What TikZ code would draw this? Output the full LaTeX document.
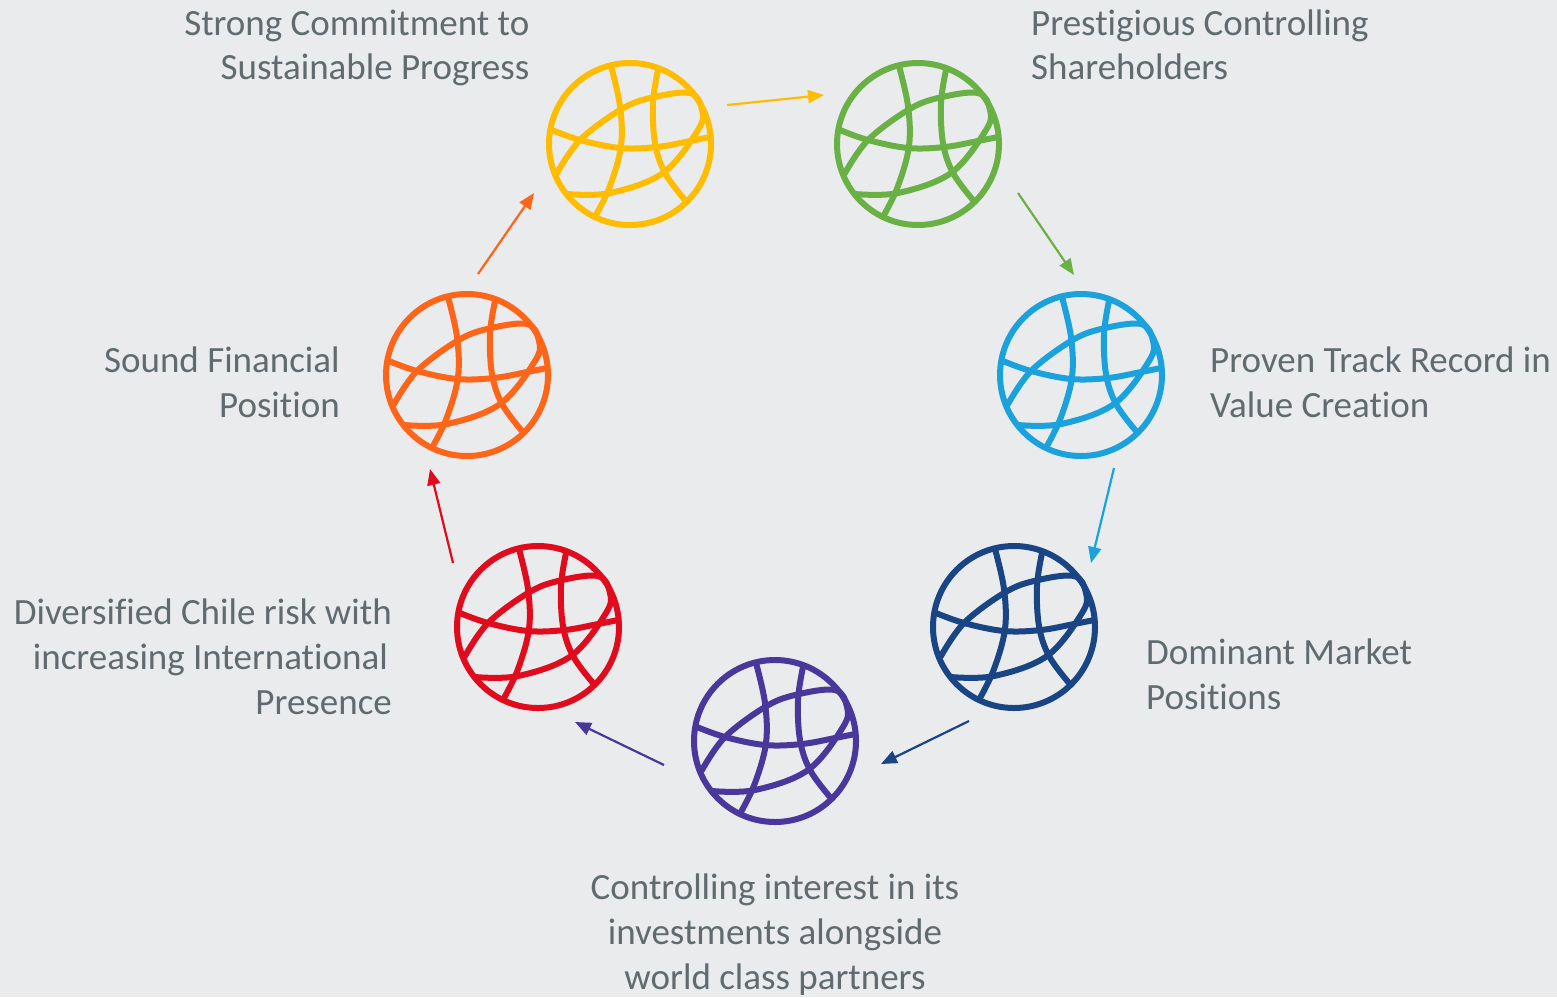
\documentclass[tikz,border=0pt]{standalone}
\usepackage{fontspec}
\setmainfont{Carlito}[Ligatures=NoCommon]
\usetikzlibrary{arrows.meta}
\definecolor{bgc}{HTML}{E9EBED}
\definecolor{txtc}{HTML}{5F6B6E}
\definecolor{cyellow}{HTML}{FFBC00}
\definecolor{cgreen}{HTML}{6AB145}
\definecolor{cblue}{HTML}{1BA2DC}
\definecolor{cnavy}{HTML}{1A4584}
\definecolor{cpurple}{HTML}{4A379C}
\definecolor{cred}{HTML}{E00B1C}
\definecolor{corange}{HTML}{FF6518}
\tikzset{
  x=1pt,y=-1pt,
  globering/.style={circle,draw=#1,line width=6pt,minimum size=162pt,inner sep=0pt,outer sep=0pt},
  grid line/.style={line width=6pt,line cap=round,line join=round,y=1pt},
  pics/gridlines/.style={code={
    \draw[grid line,#1] plot[smooth,tension=.6] coordinates {(-19,78)(-10,38)(-9,-2)(-20,-42)(-34,-71)};
    \draw[grid line,#1] plot[smooth,tension=.6] coordinates {(28,74)(23,41)(25,1)(35,-29)(55,-56)};
    \draw[grid line,#1] plot[smooth,tension=.6] coordinates {(-78,14)(-50,4)(-10,-4)(27,-3)(60,3)(80,7)};
    \draw[grid line,#1] plot[smooth,tension=.6] coordinates {(-73,-29)(-50,4)(-10,34)(20,46)(60,51)(72,34)(68,14)(33,-29)(-20,-49)(-63,-50)};
  }},
  label text/.style={text=txtc,font=\fontsize{37}{45}\selectfont,inner sep=0pt},
  top text/.style={text=txtc,font=\fontsize{37}{43.5}\selectfont,inner sep=0pt},
  flow/.style={draw=#1,line width=2.2pt,-{Triangle[length=16pt,width=13pt]}},
}
\begin{document}
\begin{tikzpicture}
\useasboundingbox[fill=bgc] (0,0) rectangle (1557,997);
\foreach \nm/\cx/\cy/\col in {yellow/630/144/cyellow,green/918/144/cgreen,blue/1081/375/cblue,navy/1014/627/cnavy,purple/775/741/cpurple,red/538/627/cred,orange/467/375/corange}{
  \node[globering=\col] (g\nm) at (\cx,\cy) {};
  \pic at (\cx,\cy) {gridlines=\col};
}
\node[top text,align=right,anchor=east] (t1) at (529.5,48) {Strong Commitment to\\Sustainable Progress};
\node[top text,align=left,anchor=west] (t2) at (1031,45) {Prestigious Controlling\\Shareholders};
\node[label text,align=left,anchor=west] (t3) at (1210,382) {Proven Track Record in\\Value Creation};
\node[label text,align=left,anchor=west] (t4) at (1146,674) {Dominant Market\\Positions};
\node[label text,align=center,anchor=center] (t5) at (775,935) {Controlling interest in its\\investments alongside\\world class partners};
\node[label text,align=right,anchor=east] (t6) at (392,657) {Diversified Chile risk with\\increasing International\kern4pt\mbox{}\\Presence};
\node[label text,align=right,anchor=east] (t7) at (340,382) {Sound Financial\\Position};
\coordinate (a1s) at (727,105); \coordinate (a1e) at (824,95);
\coordinate (a2s) at (1018,193); \coordinate (a2e) at (1074,275);
\coordinate (a3s) at (1114,468); \coordinate (a3e) at (1091,563);
\coordinate (a4s) at (969,721); \coordinate (a4e) at (881,764);
\coordinate (a5s) at (664,765); \coordinate (a5e) at (575,722);
\coordinate (a6s) at (453,563); \coordinate (a6e) at (430,469);
\coordinate (a7s) at (478,274); \coordinate (a7e) at (534,193);
\draw[flow=cyellow] (a1s) -- (a1e);
\draw[flow=cgreen] (a2s) -- (a2e);
\draw[flow=cblue] (a3s) -- (a3e);
\draw[flow=cnavy] (a4s) -- (a4e);
\draw[flow=cpurple] (a5s) -- (a5e);
\draw[flow=cred] (a6s) -- (a6e);
\draw[flow=corange] (a7s) -- (a7e);
\end{tikzpicture}
\end{document}
